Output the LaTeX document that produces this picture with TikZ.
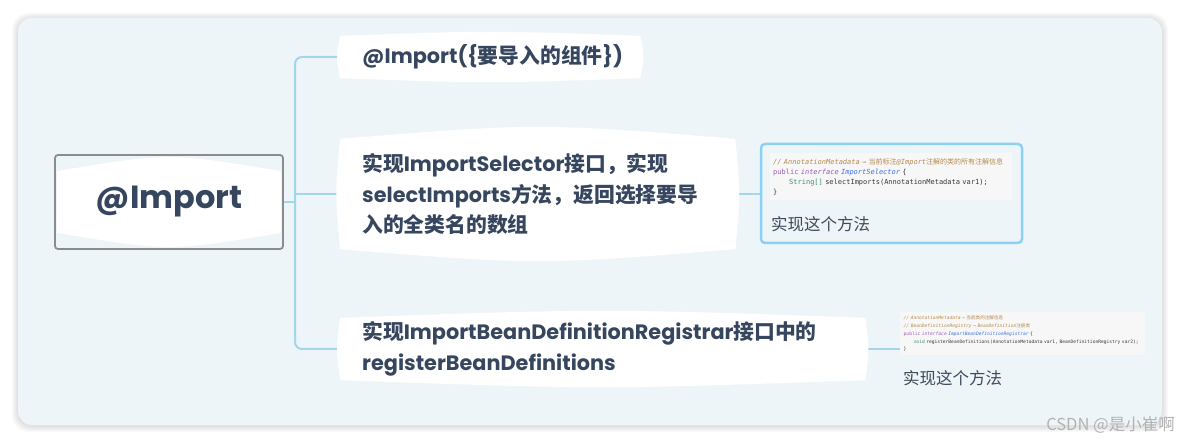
\documentclass[tikz,border=0pt]{standalone}
\usepackage{fontspec}
\usepackage{tikz}
\usetikzlibrary{calc,backgrounds}
\setmainfont{Poppins}
\setmonofont{DejaVu Sans Mono}
\newfontfamily\cjk{Noto Sans CJK SC}
\newcommand\zh[1]{{\cjk #1}}
\definecolor{ink}{HTML}{36465E}
\definecolor{noteink}{HTML}{3E4A5C}
\definecolor{cardbg}{HTML}{EDF5F9}
\definecolor{branchblue}{HTML}{A4D6EB}
\definecolor{frameblue}{HTML}{8CD1F4}
\definecolor{rootgray}{HTML}{8C8C8C}
\definecolor{codebg}{HTML}{F7F7F7}
\definecolor{codeink}{HTML}{3A3A3A}
\definecolor{cmt}{HTML}{B58A4D}
\definecolor{kw}{HTML}{9A5BB5}
\definecolor{typ}{HTML}{3F6EE8}
\definecolor{grn}{HTML}{3E8F6E}
\tikzstyle{topic} = [text=ink, font=\bfseries\fontsize{20.8}{30.5}\selectfont,
    align=left, inner xsep=22pt, inner ysep=0pt, anchor=west]
\tikzstyle{rootbox} = [draw=rootgray, line width=1.8pt, rounded corners=3pt,
    minimum width=228pt, minimum height=94pt, text=ink,
    font=\bfseries\fontsize{32}{36}\selectfont]
\tikzstyle{branch} = [draw=branchblue, line width=2pt]
\tikzstyle{codeimg} = [fill=codebg, font=\ttfamily\fontsize{7}{10}\selectfont,
    align=left, anchor=north west, inner xsep=3pt, inner ysep=5pt, text=codeink]
\tikzstyle{note} = [text=noteink, font=\cjk\fontsize{16.5}{18}\selectfont,
    anchor=west, inner sep=0pt]
\newcommand\lens[5]{%
  \fill[white] ($(#1.north west)+(#3,#4)$)
    .. controls ($(#1.north)+(0,#4-1.33*#2)$) .. ($(#1.north east)+(-#3,#4)$)
    .. controls ($(#1.east)+(-#3+#5,0)$) .. ($(#1.south east)+(-#3,-#4)$)
    .. controls ($(#1.south)+(0,-#4+1.33*#2)$) .. ($(#1.south west)+(#3,-#4)$)
    .. controls ($(#1.west)+(#3-#5,0)$) .. cycle;}

\begin{document}
\begin{tikzpicture}[x=1pt,y=-1pt]
\useasboundingbox (0,0) rectangle (1180,443);

\node[rootbox] (root) at (169,202) {@Import};

\node[topic, minimum height=42pt, text width=256pt] (imp) at (340,57)
    {@Import(\{\zh{要导入的组件}\})};
\node[topic, minimum height=110pt, text width=351pt] (sel) at (340,194)
    {\zh{实现}ImportSelector\zh{接口，实现}\\
     selectImports\zh{方法，返回选择要导}\\
     \zh{入的全类名的数组}};
\node[topic, minimum height=62pt, text width=481pt] (reg) at (340,349)
    {\zh{实现}ImportBeanDefinitionRegistrar\zh{接口中的}\\
     registerBeanDefinitions};

\node[draw=frameblue, line width=2.5pt, rounded corners=4pt,
    minimum width=261pt, minimum height=99pt] (selbox) at (891.5,193.5) {};
\node[codeimg, text width=236pt] (selcode) at (770,153)
    {\textcolor{cmt}{\itshape // AnnotationMetadata → \zh{当前标注}@Import\zh{注解的类的所有注解信息}}\\
     \textcolor{kw}{public \itshape interface} \textcolor{typ}{\itshape ImportSelector} \{\\
     \hspace*{16pt}\textcolor{grn}{String[]} selectImports(AnnotationMetadata var1);\\
     \}};
\node[note] (selnote) at (771,224) {实现这个方法};

\node[codeimg, font=\ttfamily\fontsize{4.6}{7.8}\selectfont, inner sep=3.5pt,
    text width=238pt] (regcode) at (900,312)
    {\textcolor{cmt}{\itshape // AnnotationMetadata → \zh{当前类的注解信息}}\\
     \textcolor{cmt}{\itshape // BeanDefinitionRegistry → BeanDefinition\zh{注册类}}\\
     \textcolor{kw}{public \itshape interface} \textcolor{typ}{\itshape ImportBeanDefinitionRegistrar} \{\\
     \hspace*{10pt}\textcolor{grn}{void} registerBeanDefinitions(AnnotationMetadata var1, BeanDefinitionRegistry var2);\\
     \}};
\node[note] (regnote) at (903,378) {实现这个方法};

\node[text=black!30, font=\cjk\fontsize{16.5}{18}\selectfont, anchor=base east,
    inner sep=0pt] (wm) at (1175,430) {CSDN @是小崔啊};

\coordinate (fork) at (295,202);

\begin{scope}[on background layer]
\fill[white] (0,0) rectangle (1180,443);
\foreach \s in {1,...,6}
  \fill[black, opacity=0.02, rounded corners=16pt]
    (18-\s,18-\s+1) rectangle (1162+\s,425+\s+1);
\fill[cardbg, rounded corners=14pt] (18,18) rectangle (1162,425);
\draw[branch] (root.east) -- (fork);
\draw[branch, rounded corners=7pt] (fork) |- (imp.west);
\draw[branch, rounded corners=7pt] (fork) |- (reg.west);
\draw[branch] (fork |- sel.west) -- (sel.west);
\draw[branch] (sel.east) -- (selbox.west |- sel.east);
\draw[branch] (reg.east) -- (regcode.west |- reg.east);
\lens{imp}{4}{0}{0}{4}
\lens{sel}{12}{0}{0}{5}
\lens{reg}{7}{0}{0}{4}
\lens{root}{14}{3}{17}{0}
\end{scope}
\end{tikzpicture}
\end{document}
